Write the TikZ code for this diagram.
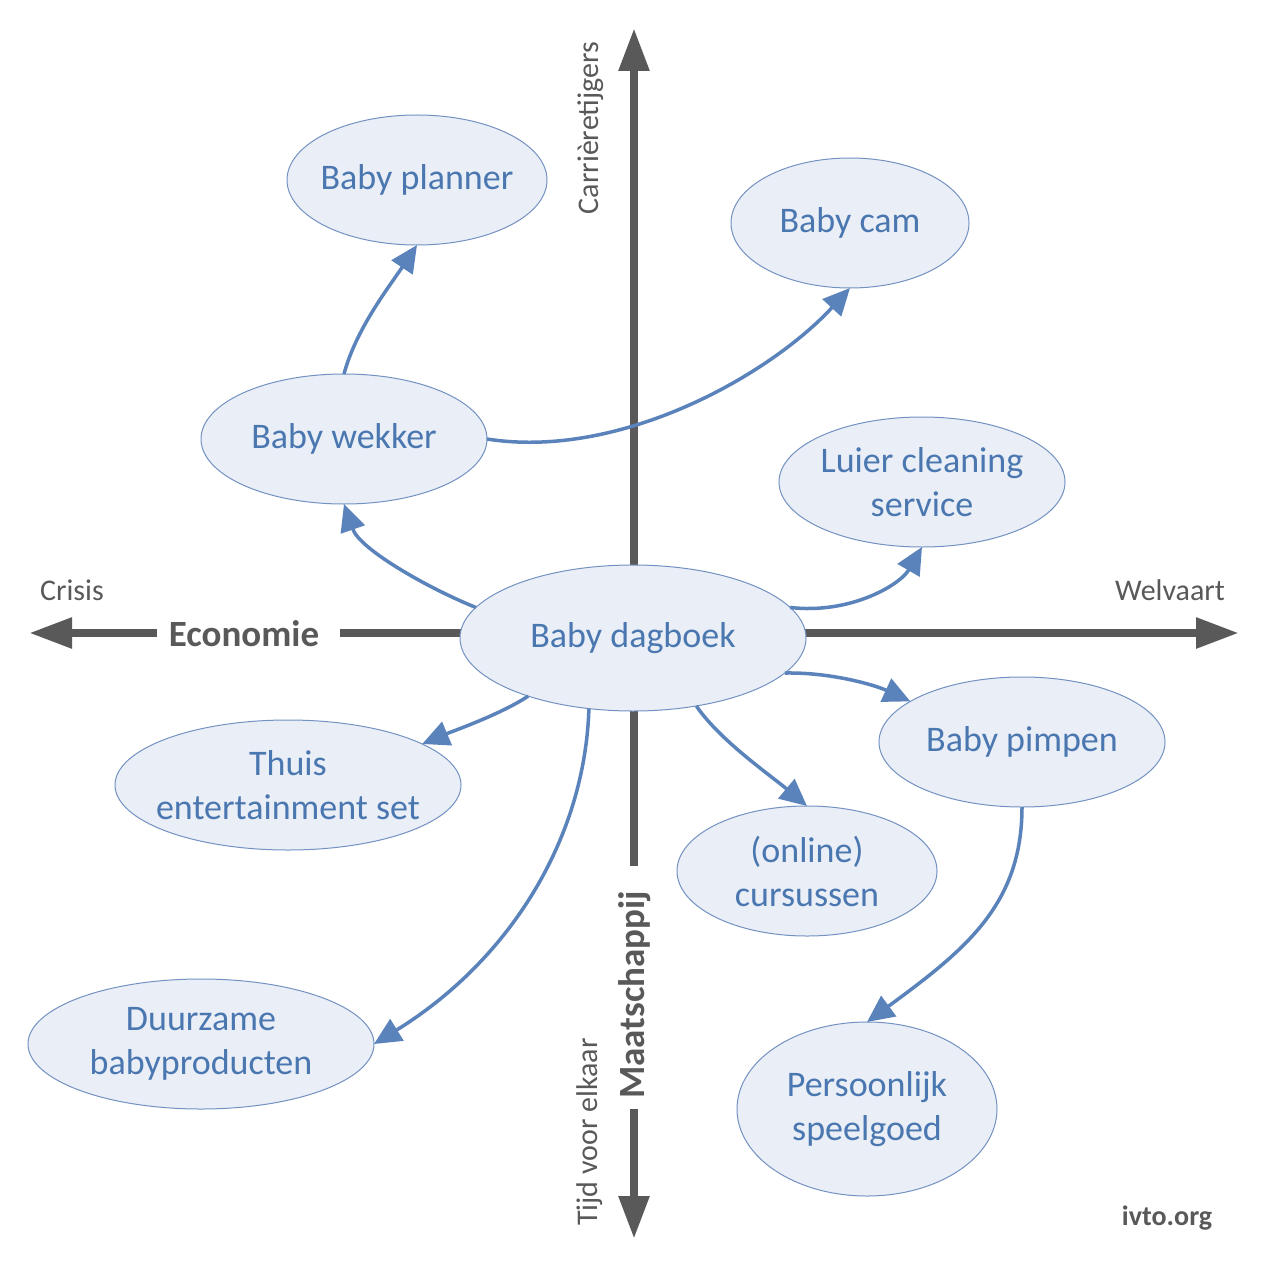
\documentclass[tikz,border=0pt]{standalone}
\usepackage{fontspec}
\setmainfont{Carlito}
\usetikzlibrary{arrows.meta,shapes.geometric}
\definecolor{axisgrey}{HTML}{595959}
\definecolor{bubfill}{HTML}{E9EEF7}
\definecolor{bubline}{HTML}{7392C2}
\definecolor{bubtext}{HTML}{4A77B0}
\definecolor{arrowblue}{HTML}{5A83BB}
\newcommand\zbox[1]{\makebox[0pt]{#1}}
\begin{document}
\begin{tikzpicture}[x=1pt,y=-1pt,
  bubble/.style={ellipse,draw=bubline,fill=bubfill,line width=1pt,inner sep=0pt,outer sep=0pt,
    text=bubtext,align=center,font=\fontsize{36}{44}\selectfont},
  axisline/.style={draw=axisgrey,line width=8.5pt,-{Triangle[length=43pt,width=29pt]}},
  link/.style={draw=arrowblue,line width=3.5pt,-{Triangle[length=27pt,width=25pt]}},
  axlabel/.style={text=axisgrey,font=\fontsize{30}{36}\selectfont,inner sep=0pt},
  axtitle/.style={text=axisgrey,font=\bfseries\fontsize{37}{44}\selectfont,inner sep=0pt},
]
\useasboundingbox[fill=white] (0,0) rectangle (1264,1273);

% axes
\coordinate (hl1) at (157,633);
\coordinate (hlt) at (29,633);
\coordinate (hr1) at (340,633);
\coordinate (hrt) at (1239,633);
\coordinate (vt1) at (634,866);
\coordinate (vtt) at (634,28);
\coordinate (vb1) at (634,1109);
\coordinate (vbt) at (634,1239);
\draw[axisline] (hl1) -- (hlt);
\draw[axisline] (hr1) -- (hrt);
\draw[axisline] (vt1) -- (vtt);
\draw[axisline] (vb1) -- (vbt);

% axis labels
\node[axtitle] (econ) at (244,634) {Economie};
\node[axtitle,rotate=90] (maat) at (635,995) {Maatschappij};
\node[axlabel] (crisis) at (72,590) {Crisis};
\node[axlabel] (welvaart) at (1170,590) {Welvaart};
\node[axlabel,rotate=90] (carriere) at (591,128) {Carrièretijgers};
\node[axlabel,rotate=90] (tijd) at (590,1132) {Tijd voor elkaar};
\node[text=axisgrey,font=\bfseries\fontsize{28}{32}\selectfont,inner sep=0pt] (ivto) at (1167,1218) {ivto.org};

% bubbles
\node[bubble,minimum width=260pt,minimum height=130pt] (planner) at (417,180) {\zbox{Baby planner}};
\node[bubble,minimum width=238pt,minimum height=130pt] (cam) at (850,223) {\zbox{Baby cam}};
\node[bubble,minimum width=286pt,minimum height=130pt] (wekker) at (344,439) {\zbox{Baby wekker}};
\node[bubble,minimum width=286pt,minimum height=130pt] (luier) at (922,482) {\zbox{Luier cleaning}\\\zbox{service}};
\node[bubble,minimum width=346pt,minimum height=146pt] (dagboek) at (633,638) {\zbox{Baby dagboek}};
\node[bubble,minimum width=346pt,minimum height=130pt] (thuis) at (288,785) {\zbox{Thuis}\\\zbox{entertainment set}};
\node[bubble,minimum width=286pt,minimum height=130pt] (pimpen) at (1022,742) {\zbox{Baby pimpen}};
\node[bubble,minimum width=260pt,minimum height=130pt] (cursus) at (807,871) {\zbox{(online)}\\\zbox{cursussen}};
\node[bubble,minimum width=346pt,minimum height=130pt] (duurzaam) at (201,1044) {\zbox{Duurzame}\\\zbox{babyproducten}};
\node[bubble,minimum width=260pt,minimum height=174pt] (speelgoed) at (867,1109) {\zbox{Persoonlijk}\\\zbox{speelgoed}};

% connectors
\draw[link] (wekker.north) .. controls +(12,-45) and +(-28,42) .. (planner.south);
\draw[link] (wekker.east) .. controls +(133,21) and +(-80,87) .. (cam.south);
\draw[link] (dagboek.169) .. controls +(-45,-18) and +(16,46) .. (wekker.south);
\draw[link] (dagboek.11) .. controls +(60,7) and +(-22,38) .. (luier.south);
\draw[link] (dagboek.347) .. controls +(44,-1) and +(-37,-17) .. (pimpen.160);
\draw[link] (dagboek.313) .. controls +(23,34) and +(-37,-31) .. (cursus.north);
\draw[link] (dagboek.209) .. controls +(-27,18) and +(31,-13) .. (thuis.17);
\draw[link] (dagboek.238.6) .. controls +(-4,130) and +(136,-84) .. (duurzaam.east);
\draw[link] (pimpen.south) .. controls +(0,98) and +(98,-72) .. (speelgoed.north);
\end{tikzpicture}
\end{document}
